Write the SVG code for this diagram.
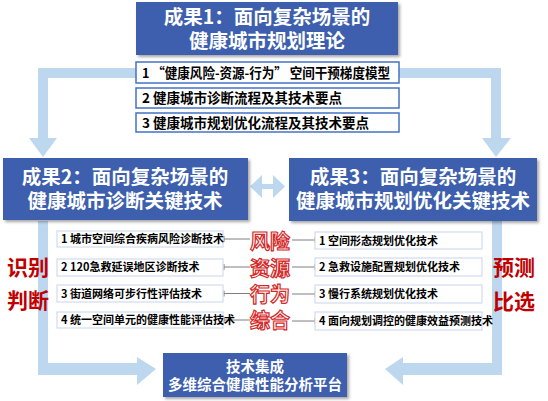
<svg xmlns="http://www.w3.org/2000/svg" width="548" height="401" viewBox="0 0 548 401">
<defs>
<filter id="sh" x="-10%" y="-10%" width="125%" height="140%">
<feDropShadow dx="2" dy="2" stdDeviation="1.5" flood-color="#000" flood-opacity="0.35"/>
</filter>
<marker id="tick" markerWidth="2" markerHeight="8" refX="1" refY="4" orient="auto" markerUnits="userSpaceOnUse">
<line x1="1" y1="1" x2="1" y2="7" stroke="#7f7f7f" stroke-width="1"/>
</marker>
</defs>
<style>
text{font-family:"Microsoft YaHei","Noto Sans CJK SC","Noto Sans",sans-serif;font-weight:bold}
.big{fill:#3C5FAD;filter:url(#sh)}
.bt{fill:#fff;font-size:19.5px;text-anchor:middle}
.band{fill:#BDD7EE}
.top{fill:#fff;stroke:#4472C4;stroke-width:1.5}
.tt{fill:#000;font-size:13.5px}
.item{fill:#fff;stroke:#D0DDEE;stroke-width:1.2}
.it{fill:#000;font-size:11px}
.conn{stroke:#7f7f7f;stroke-width:1;fill:none;marker-end:url(#tick)}
.mid{fill:#fff;stroke:#D42A2A;stroke-width:1.2;font-size:20px;text-anchor:middle}
.side{fill:#C00000;font-size:21px;text-anchor:middle}
</style>

<g id="bands">
<path class="band" d="M136 68 H38 V138 H29 L43 157 L57 138 H48 V78 H136 Z"/>
<path class="band" d="M399 68 H501 V138 H511 L496 157 L482 138 H491 V78 H399 Z"/>
<path class="band" d="M38 221 V375 H137 V385 L156 369 L137 357 V363 H48 V221 Z"/>
<path class="band" d="M502 221 V375 H403 V385 L385 369 L403 357 V363 H492 V221 Z"/>
<path class="band" d="M250 186.5 L262 175 V184 H273 V175 L285 186.5 L273 198 V189 H262 V198 Z"/>
</g>

<g id="node1">
<rect class="big" x="136" y="2" width="262" height="53"/>
<text class="bt"><tspan x="267" y="24">成果1：面向复杂场景的</tspan><tspan x="267" y="47.5">健康城市规划理论</tspan></text>
</g>

<g id="node1-items">
<rect class="top" x="136" y="62" width="263" height="21"/>
<text class="tt" x="142" y="78" textLength="248" lengthAdjust="spacingAndGlyphs">1 “健康风险-资源-行为” 空间干预梯度模型</text>
<rect class="top" x="136" y="88" width="263" height="20"/>
<text class="tt" x="142" y="103">2 健康城市诊断流程及其技术要点</text>
<rect class="top" x="136" y="113" width="263" height="19"/>
<text class="tt" x="142" y="127.5">3 健康城市规划优化流程及其技术要点</text>
</g>

<g id="node2">
<rect class="big" x="3" y="158" width="245" height="62"/>
<text class="bt"><tspan x="125" y="184">成果2：面向复杂场景的</tspan><tspan x="125" y="207.5">健康城市诊断关键技术</tspan></text>
</g>

<g id="node3">
<rect class="big" x="289" y="158" width="248" height="63"/>
<text class="bt"><tspan x="413" y="184">成果3：面向复杂场景的</tspan><tspan x="413" y="207.5">健康城市规划优化关键技术</tspan></text>
</g>

<g id="connectors">
<line class="conn" x1="250" y1="239" x2="224" y2="239"/>
<line class="conn" x1="250" y1="267" x2="224" y2="267"/>
<line class="conn" x1="250" y1="293.5" x2="224" y2="293.5"/>
<line class="conn" x1="250" y1="320" x2="224" y2="320"/>
<line class="conn" x1="292" y1="240" x2="315" y2="240"/>
<line class="conn" x1="292" y1="267" x2="315" y2="267"/>
<line class="conn" x1="292" y1="294" x2="315" y2="294"/>
<line class="conn" x1="292" y1="321" x2="315" y2="321"/>
</g>

<g id="left-items">
<rect class="item" x="57" y="231" width="166" height="16"/>
<text class="it" x="61" y="243">1 城市空间综合疾病风险诊断技术</text>
<rect class="item" x="57" y="259" width="166" height="17"/>
<text class="it" x="61" y="271">2 120急救延误地区诊断技术</text>
<rect class="item" x="57" y="285" width="166" height="17"/>
<text class="it" x="61" y="297.5">3 街道网络可步行性评估技术</text>
<rect class="item" x="57" y="312" width="166" height="16"/>
<text class="it" x="61" y="324">4 统一空间单元的健康性能评估技术</text>
</g>

<g id="right-items">
<rect class="item" x="315" y="232" width="167" height="17"/>
<text class="it" x="319" y="244.5">1 空间形态规划优化技术</text>
<rect class="item" x="315" y="258" width="167" height="18"/>
<text class="it" x="319" y="271">2 急救设施配置规划优化技术</text>
<rect class="item" x="315" y="285" width="167" height="18"/>
<text class="it" x="319" y="298">3 慢行系统规划优化技术</text>
<rect class="item" x="315" y="312" width="167" height="18"/>
<text class="it" x="319" y="325">4 面向规划调控的健康效益预测技术</text>
</g>

<g id="mid-labels">
<text class="mid" x="270" y="249">风险</text>
<text class="mid" x="270" y="275.5">资源</text>
<text class="mid" x="270" y="302">行为</text>
<text class="mid" x="270" y="328">综合</text>
</g>

<g id="side-labels">
<text class="side" x="28" y="275">识别</text>
<text class="side" x="28" y="308">判断</text>
<text class="side" x="514" y="275">预测</text>
<text class="side" x="514" y="309">比选</text>
</g>

<g id="node4">
<rect class="big" x="163" y="353" width="184" height="44"/>
<text fill="#fff" font-size="14.5" text-anchor="middle"><tspan x="255" y="371.5">技术集成</tspan><tspan x="255" y="390">多维综合健康性能分析平台</tspan></text>
</g>
</svg>
